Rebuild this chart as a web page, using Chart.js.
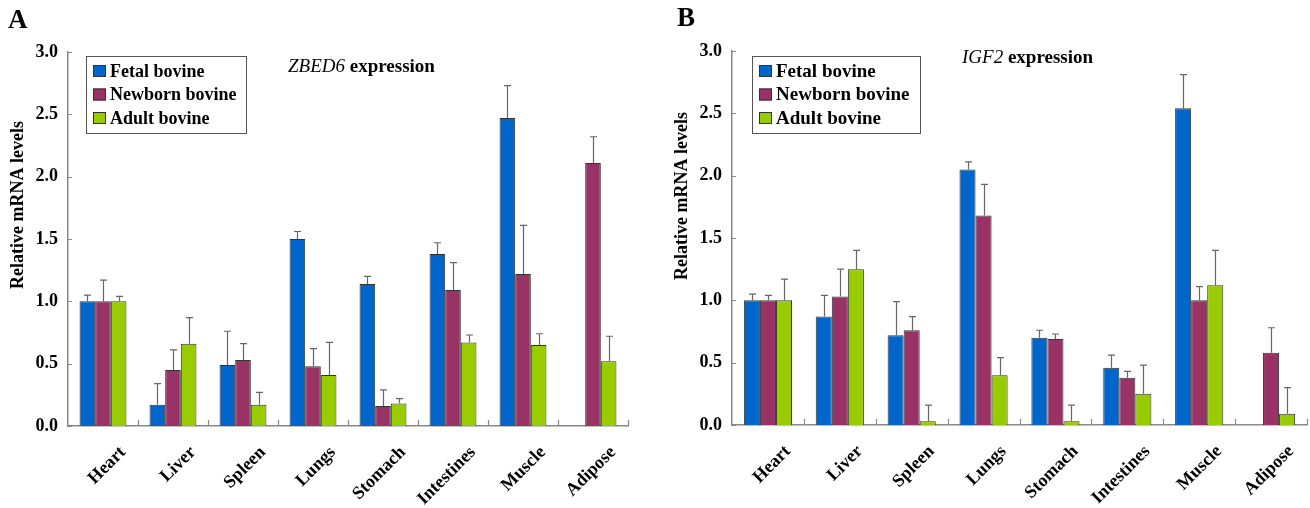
<!DOCTYPE html>
<html>
<head>
<meta charset="utf-8">
<script src="https://cdn.jsdelivr.net/npm/chart.js@4.4.0/dist/chart.umd.min.js"></script>
<style>
  body { margin: 0; background: #fff; width: 1310px; height: 508px; overflow: hidden; position: relative; }
  .panel { position: absolute; top: 0; height: 508px; width: 655px; }
</style>
</head>
<body>
<div class="panel" style="left:0"><canvas id="chartA" width="655" height="508"></canvas></div>
<div class="panel" style="left:655px"><canvas id="chartB" width="655" height="508"></canvas></div>
<script>
// categories and series
const tissues = ['Heart', 'Liver', 'Spleen', 'Lungs', 'Stomach', 'Intestines', 'Muscle', 'Adipose'];
const groups = ['Fetal bovine', 'Newborn bovine', 'Adult bovine'];
const groupColors = ['#0066cc', '#993366', '#99cc00'];

// ZBED6 relative expression (mean and SD)
const zbed6Fetal      = [1.00, 0.17, 0.49, 1.50, 1.14, 1.38, 2.47, null];
const zbed6FetalErr   = [0.05, 0.17, 0.27, 0.06, 0.06, 0.09, 0.26, null];
const zbed6Newborn    = [1.00, 0.45, 0.53, 0.48, 0.16, 1.09, 1.22, 2.11];
const zbed6NewbornErr = [0.17, 0.16, 0.13, 0.14, 0.13, 0.22, 0.39, 0.21];
const zbed6Adult      = [1.00, 0.66, 0.17, 0.41, 0.18, 0.67, 0.65, 0.52];
const zbed6AdultErr   = [0.04, 0.21, 0.10, 0.26, 0.04, 0.06, 0.09, 0.20];

// IGF2 relative expression (mean and SD)
const igf2Fetal      = [1.00, 0.87, 0.72, 2.05, 0.70, 0.46, 2.54, null];
const igf2FetalErr   = [0.05, 0.17, 0.27, 0.06, 0.06, 0.10, 0.27, null];
const igf2Newborn    = [1.00, 1.03, 0.76, 1.68, 0.69, 0.38, 1.00, 0.58];
const igf2NewbornErr = [0.04, 0.22, 0.11, 0.25, 0.04, 0.05, 0.11, 0.20];
const igf2Adult      = [1.00, 1.25, 0.03, 0.40, 0.03, 0.25, 1.12, 0.09];
const igf2AdultErr   = [0.17, 0.15, 0.13, 0.14, 0.13, 0.23, 0.28, 0.21];

const yMin = 0, yMax = 3.0, yStep = 0.5;
const yTitle = 'Relative mRNA levels';

const SERIF = '"Liberation Serif", "Times New Roman", serif';

// error bars, drawn from the bar top up to value + SD
const errorBars = {
  id: 'errorBars',
  afterDatasetsDraw(chart) {
    const ctx = chart.ctx;
    const y = chart.scales.y;
    ctx.save();
    ctx.strokeStyle = '#666';
    ctx.lineWidth = 1.2;
    chart.data.datasets.forEach((ds, i) => {
      const meta = chart.getDatasetMeta(i);
      meta.data.forEach((bar, j) => {
        const v = ds.data[j], e = ds.errors[j];
        if (v == null || e == null) return;
        const top = y.getPixelForValue(v + e);
        const x = Math.round(bar.x) + 0.5;
        ctx.beginPath();
        ctx.moveTo(x, bar.y);
        ctx.lineTo(x, top);
        ctx.moveTo(x - 3.5, top);
        ctx.lineTo(x + 3.5, top);
        ctx.stroke();
      });
    });
    ctx.restore();
  }
};

// small inward tick marks like the original
const innerTicks = {
  id: 'innerTicks',
  afterDraw(chart) {
    const ctx = chart.ctx;
    const { x, y } = chart.scales;
    const area = chart.chartArea;
    ctx.save();
    ctx.strokeStyle = '#888';
    ctx.lineWidth = 1.2;
    ctx.beginPath();
    y.ticks.forEach(t => {
      const py = Math.round(y.getPixelForValue(t.value)) + 0.5;
      ctx.moveTo(area.left, py);
      ctx.lineTo(area.left + 4, py);
    });
    for (let i = 1; i <= tissues.length; i++) {
      const px = Math.round(x.getPixelForValue(i - 0.5)) + 0.5;
      ctx.moveTo(px, area.bottom);
      ctx.lineTo(px, area.bottom - 6);
    }
    ctx.stroke();
    ctx.restore();
  }
};

// panel letter, gene title, y title and the boxed legend
const decor = {
  id: 'decor',
  afterDraw(chart, args, o) {
    const ctx = chart.ctx;
    const area = chart.chartArea;
    ctx.save();
    ctx.fillStyle = '#000';
    ctx.textBaseline = 'middle';

    ctx.font = 'bold 27px ' + SERIF;
    ctx.fillText(o.letter, o.letterX, o.letterY);

    ctx.font = 'italic 19px ' + SERIF;
    ctx.fillText(o.gene, o.titleX, o.titleY);
    const gw = ctx.measureText(o.gene + ' ').width;
    ctx.font = 'bold 19px ' + SERIF;
    ctx.fillText('expression', o.titleX + gw, o.titleY);

    ctx.save();
    ctx.translate(o.yTitleX, o.yTitleY);
    ctx.rotate(-Math.PI / 2);
    ctx.textAlign = 'center';
    ctx.font = 'bold 18px ' + SERIF;
    ctx.fillText(yTitle, 0, 0);
    ctx.restore();

    const bx = area.left + o.legendDx, by = 56;
    ctx.strokeStyle = '#555';
    ctx.lineWidth = 1;
    ctx.strokeRect(bx + 0.5, by + 0.5, o.legendW, 77);
    ctx.font = 'bold ' + o.legendFont + 'px ' + SERIF;
    chart.data.datasets.forEach((ds, i) => {
      const cy = by + 15 + i * 23.5;
      ctx.fillStyle = ds.backgroundColor;
      ctx.fillRect(bx + 7, cy - 6, 13, 12);
      ctx.strokeStyle = '#333';
      ctx.strokeRect(bx + 7.5, cy - 5.5, 12, 11);
      ctx.fillStyle = '#000';
      ctx.fillText(ds.label, bx + 24, cy + 1);
    });
    ctx.restore();
  }
};

function makeChart(id, series, errs, cfg) {
  const ctx = document.getElementById(id).getContext('2d');
  return new Chart(ctx, {
    type: 'bar',
    data: {
      labels: tissues,
      datasets: groups.map((g, i) => ({
        label: g,
        data: series[i],
        errors: errs[i],
        backgroundColor: groupColors[i],
        borderColor: '#333',
        borderWidth: 1,
        categoryPercentage: 0.67,
        barPercentage: 1.0
      }))
    },
    options: {
      responsive: false,
      animation: false,
      devicePixelRatio: 1,
      layout: { padding: { left: 0, right: cfg.padRight, top: cfg.top, bottom: 0 } },
      plugins: {
        legend: { display: false },
        tooltip: { enabled: false },
        decor: cfg.decor
      },
      scales: {
        x: {
          grid: { display: false },
          border: { display: true, color: '#888', width: 1.5 },
          ticks: {
            autoSkip: false,
            minRotation: 45,
            maxRotation: 45,
            labelOffset: 20,
            padding: 8,
            color: '#000',
            font: { family: SERIF, size: 18, weight: 'bold' }
          },
          afterFit(scale) { scale.height = cfg.xHeight; }
        },
        y: {
          min: yMin,
          max: yMax,
          grid: { display: false, drawTicks: false },
          border: { display: true, color: '#888', width: 1.5 },
          ticks: {
            stepSize: yStep,
            padding: 10,
            color: '#000',
            font: { family: SERIF, size: 18, weight: 'bold' },
            callback: v => Number(v).toFixed(1)
          },
          afterFit(scale) { scale.width = cfg.yWidth; }
        }
      }
    },
    plugins: [errorBars, innerTicks, decor]
  });
}

makeChart('chartA',
  [zbed6Fetal, zbed6Newborn, zbed6Adult],
  [zbed6FetalErr, zbed6NewbornErr, zbed6AdultErr],
  {
    padRight: 27, top: 52, xHeight: 82, yWidth: 68,
    decor: {
      letter: 'A', letterX: 8, letterY: 21,
      gene: 'ZBED6', titleX: 288, titleY: 67,
      yTitleX: 18, yTitleY: 205,
      legendDx: 18, legendW: 160, legendFont: 18
    }
  });

makeChart('chartB',
  [igf2Fetal, igf2Newborn, igf2Adult],
  [igf2FetalErr, igf2NewbornErr, igf2AdultErr],
  {
    padRight: 3, top: 51, xHeight: 83, yWidth: 77,
    decor: {
      letter: 'B', letterX: 22, letterY: 19,
      gene: 'IGF2', titleX: 307, titleY: 58,
      yTitleX: 27, yTitleY: 196,
      legendDx: 20, legendW: 168, legendFont: 19
    }
  });
</script>
</body>
</html>
